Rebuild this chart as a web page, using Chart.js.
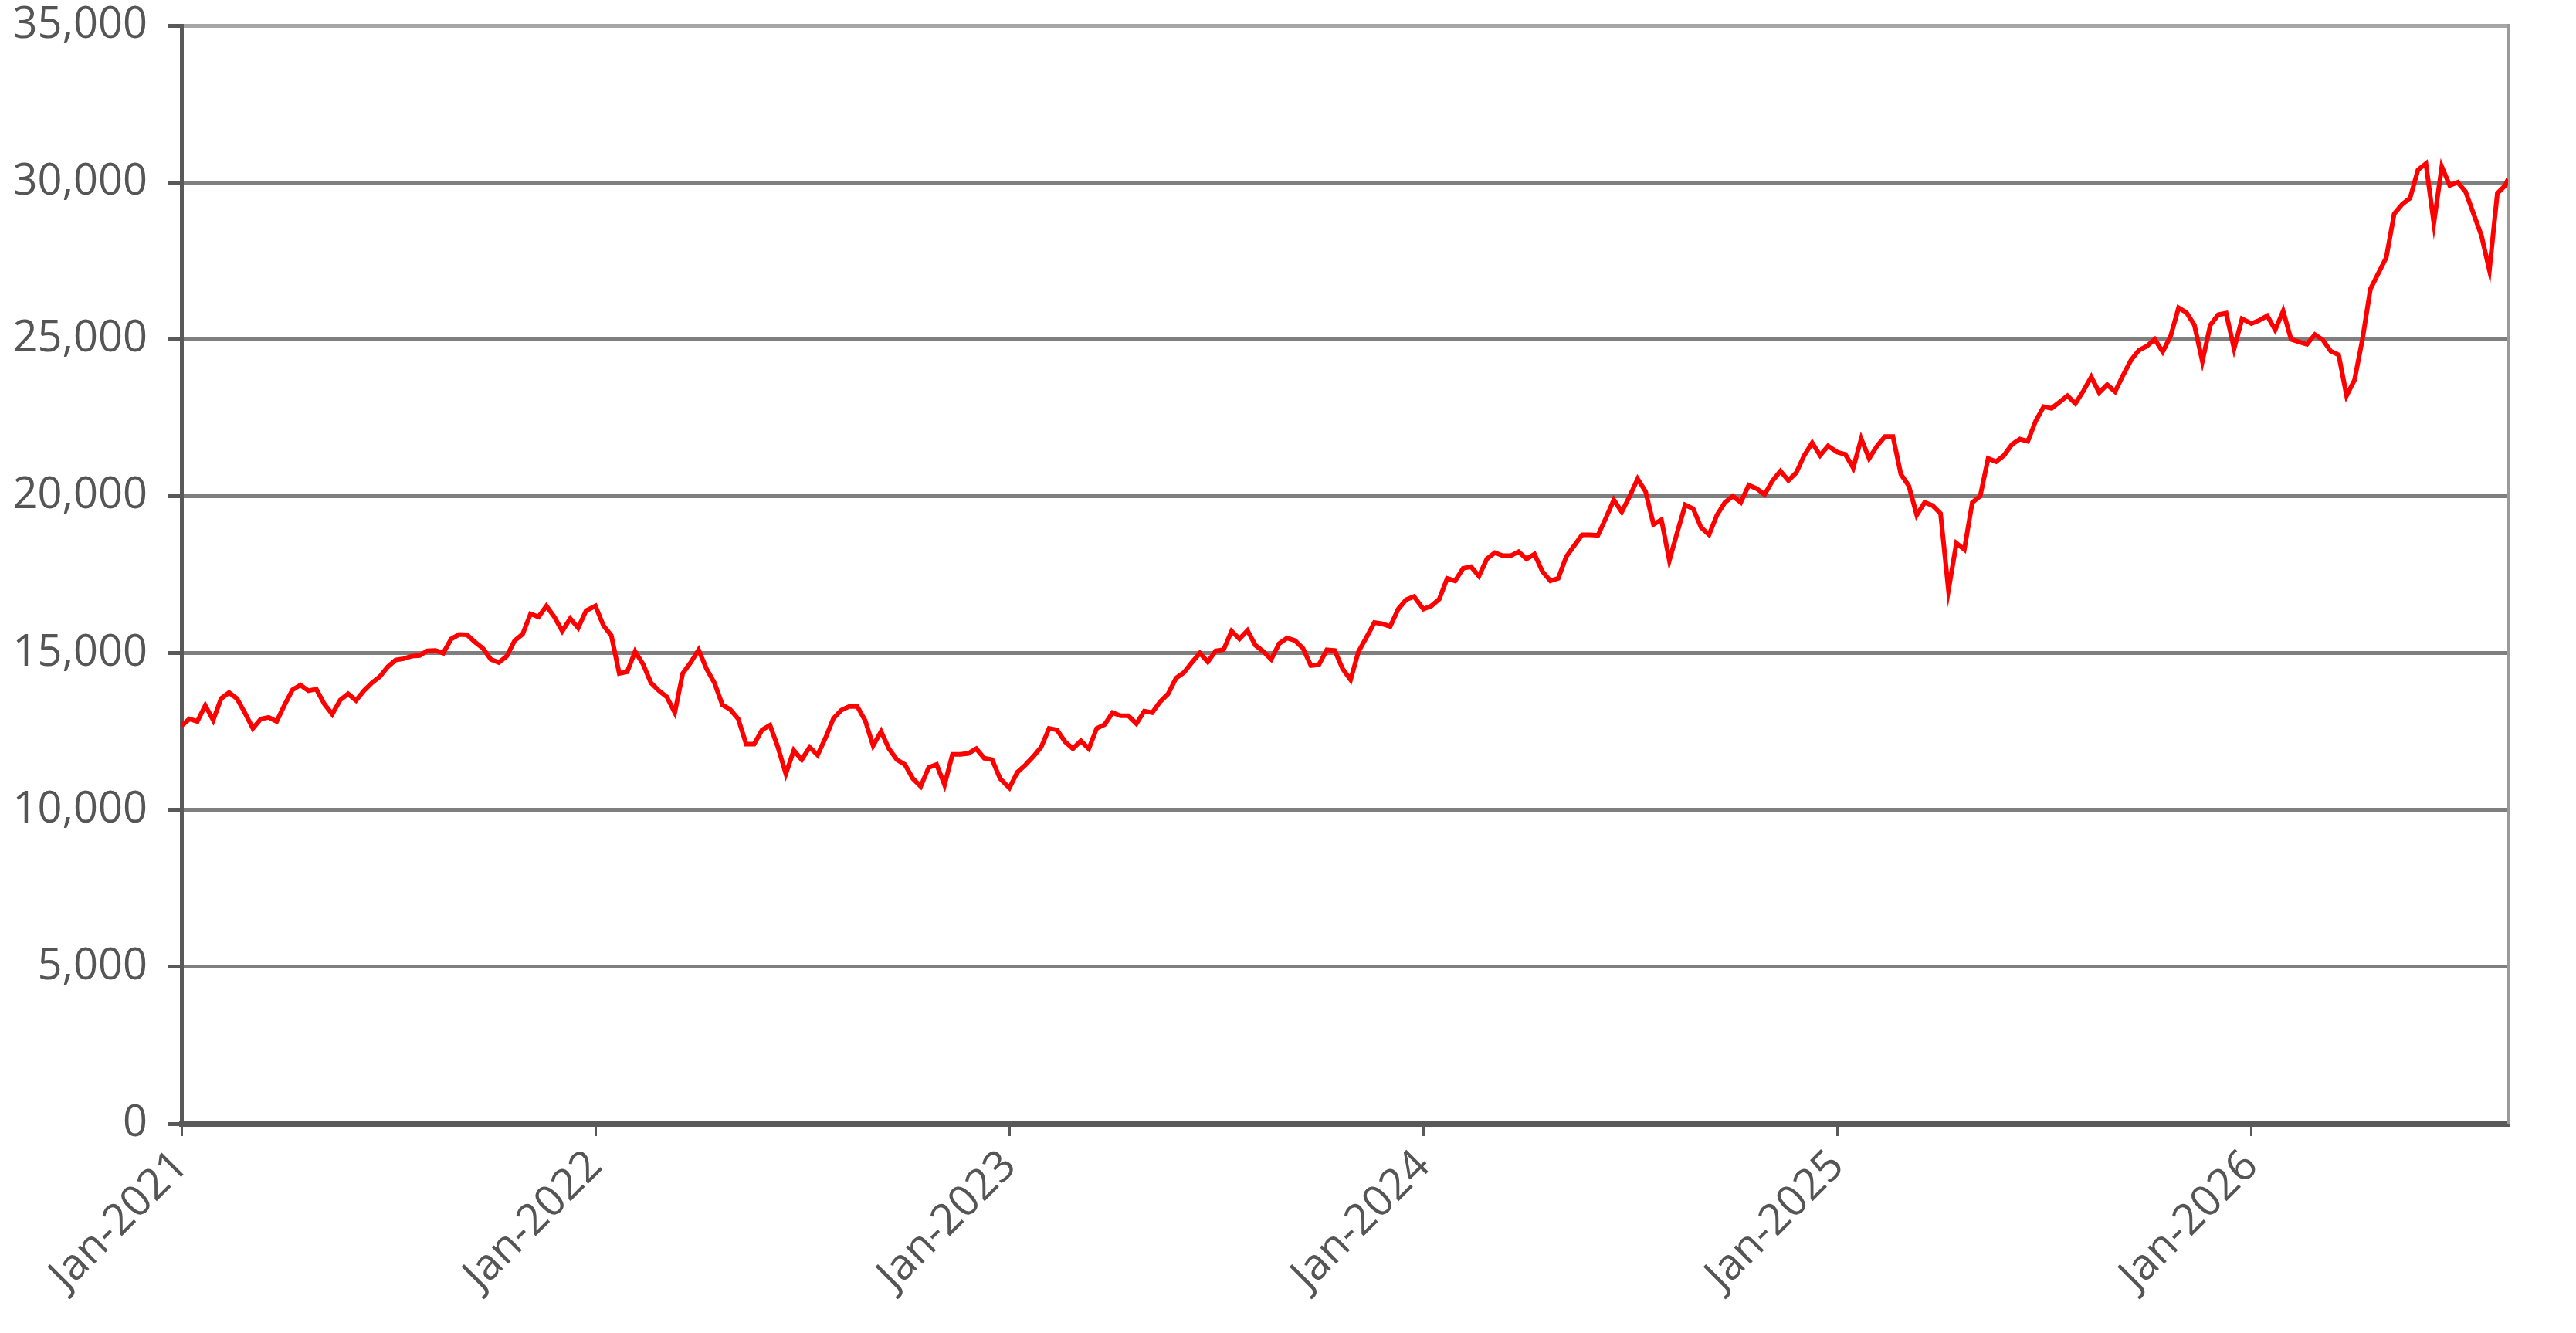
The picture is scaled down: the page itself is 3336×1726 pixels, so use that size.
<!DOCTYPE html>
<html>
<head>
<meta charset="utf-8">
<script src="https://cdn.jsdelivr.net/npm/chart.js@4.4.1/dist/chart.umd.min.js"></script>
<style>
  html, body { margin: 0; padding: 0; background: #fff; }
  #chart { display: block; }
</style>
</head>
<body>
<canvas id="chart" width="3336" height="1726"></canvas>
<script>

// weekly closes, one array per calendar year
var values2021 = [12680, 12900, 12820, 13330, 12860, 13550, 13740, 13550, 13090, 12600,
    12900, 12950, 12820, 13350, 13830, 13980, 13800, 13850, 13380, 13050,
    13500, 13700, 13490, 13800, 14050, 14250, 14560, 14780, 14820, 14900,
    14920, 15070, 15080, 15000, 15450, 15590, 15580, 15350, 15150, 14800,
    14700, 14900, 15400, 15600, 16250, 16150, 16500, 16150, 15700, 16100,
    15800, 16350];
var values2022 = [16500, 15880, 15560, 14350, 14400, 15050, 14650, 14050, 13800, 13600,
    13100, 14350, 14700, 15100, 14500, 14050, 13350, 13200, 12900, 12100,
    12100, 12550, 12700, 12000, 11150, 11900, 11600, 12000, 11750, 12300,
    12920, 13180, 13300, 13300, 12850, 12050, 12500, 11950, 11600, 11450,
    11000, 10750, 11350, 11450, 10800, 11770, 11770, 11800, 11950, 11650,
    11600, 11000];
var values2023 = [10700, 11200, 11430, 11700, 12000, 12600, 12550, 12180, 11950, 12200,
    11950, 12600, 12720, 13100, 13000, 13000, 12750, 13150, 13100, 13450,
    13700, 14200, 14380, 14700, 15000, 14720, 15070, 15110, 15700, 15450,
    15720, 15250, 15050, 14800, 15300, 15480, 15400, 15150, 14600, 14630,
    15100, 15080, 14500, 14150, 15050, 15500, 15970, 15930, 15850, 16400,
    16700, 16800];
var values2024 = [16400, 16500, 16720, 17380, 17300, 17700, 17750, 17450, 18000, 18200,
    18100, 18100, 18230, 18000, 18150, 17600, 17300, 17380, 18070, 18420,
    18770, 18770, 18750, 19300, 19880, 19500, 20000, 20550, 20150, 19100,
    19250, 17950, 18850, 19720, 19600, 19000, 18770, 19400, 19800, 20000,
    19800, 20350, 20240, 20050, 20490, 20800, 20500, 20750, 21300, 21700,
    21300, 21600];
var values2025 = [21400, 21330, 20900, 21830, 21200, 21600, 21900, 21900, 20700, 20330,
    19400, 19800, 19700, 19450, 17000, 18500, 18300, 19800, 20000, 21200,
    21100, 21300, 21650, 21820, 21750, 22400, 22850, 22800, 23000, 23200,
    22950, 23350, 23800, 23300, 23550, 23330, 23850, 24330, 24650, 24780,
    25000, 24600, 25100, 26000, 25850, 25450, 24300, 25450, 25780, 25830,
    24700, 25650];
var values2026 = [25500, 25600, 25750, 25300, 25900, 25000, 24920, 24840, 25150, 24980,
    24620, 24500, 23200, 23700, 25000, 26600, 27100, 27600, 29000, 29300,
    29500, 30400, 30600, 28700, 30500, 29900, 30000, 29700, 29000, 28300,
    27200, 29650, 29900, 30100];

var years = [2021, 2022, 2023, 2024, 2025, 2026];
var yearValues = [values2021, values2022, values2023, values2024, values2025, values2026];

var yTicks = [0, 5000, 10000, 15000, 20000, 25000, 30000, 35000];
var xStart = 2021;
var xEnd = 2026.62;

var points = [];
for (var i = 0; i < years.length; i++) {
    var arr = yearValues[i];
    for (var k = 0; k < arr.length; k++) {
        var x = years[i] + k * 7 / 365.25;
        points.push({ x: Math.min(x, xEnd), y: arr[k] });
    }
}

var fontFamily = "'Open Sans', 'Noto Sans', sans-serif";

var ctx = document.getElementById('chart').getContext('2d');
var chart = new Chart(ctx, {
    type: 'line',
    data: {
        datasets: [{
            data: points,
            borderColor: '#ff0000',
            borderWidth: 6,
            pointRadius: 0,
            tension: 0,
            fill: false
        }]
    },
    options: {
        responsive: false,
        animation: false,
        devicePixelRatio: 1,
        layout: { padding: { top: 0, right: 86, left: 0, bottom: 0 } },
        plugins: {
            legend: { display: false },
            tooltip: { enabled: false }
        },
        scales: {
            x: {
                type: 'linear',
                min: xStart,
                max: xEnd,
                afterFit: function(s) { s.height = 271; },
                border: { display: true, color: '#595959', width: 7 },
                grid: {
                    drawOnChartArea: false,
                    drawTicks: true,
                    tickLength: 16,
                    color: '#595959',
                    lineWidth: 3
                },
                ticks: {
                    stepSize: 1,
                    includeBounds: false,
                    autoSkip: false,
                    maxRotation: 45,
                    minRotation: 45,
                    padding: 6,
                    color: '#555',
                    font: { family: fontFamily, size: 56 },
                    callback: function(v) { return 'Jan-' + v; }
                }
            },
            y: {
                min: 0,
                max: 35000,
                afterFit: function(s) { s.width = 235; },
                afterBuildTicks: function(s) {
                    s.ticks = yTicks.map(function(v) { return { value: v }; });
                },
                border: { display: true, color: '#595959', width: 5 },
                grid: {
                    color: function(c) {
                        return c.tick && c.tick.value === 35000 ? '#a6a6a6' : '#7f7f7f';
                    },
                    lineWidth: 5,
                    tickLength: 18,
                    tickColor: '#595959'
                },
                ticks: {
                    padding: 26,
                    color: '#555',
                    // small line height so the top label does not push the plot down
                    font: { family: fontFamily, size: 56, lineHeight: 0.25 },
                    callback: function(v) { return v.toLocaleString('en-US'); }
                }
            },
            yRight: {
                position: 'right',
                min: 0,
                max: 35000,
                afterFit: function(s) { s.width = 2; },
                border: { display: true, color: '#9a9a9a', width: 5 },
                grid: { display: false, drawTicks: false },
                ticks: { display: false }
            }
        }
    }
});

</script>
</body>
</html>
